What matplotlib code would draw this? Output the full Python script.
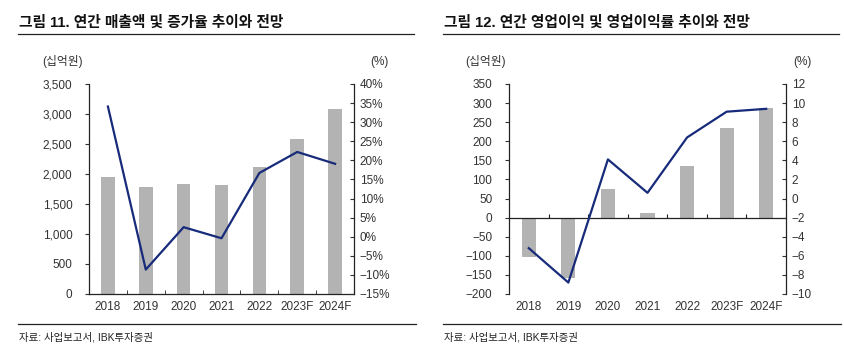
import numpy as np
import matplotlib
matplotlib.use("Agg")
import matplotlib.pyplot as plt
from matplotlib.lines import Line2D

plt.rcParams['font.family'] = ['Liberation Sans', 'Noto Sans CJK KR', 'DejaVu Sans']

# data
years = ['2018', '2019', '2020', '2021', '2022', '2023F', '2024F']
sales = [1950, 1783, 1828, 1817, 2122, 2583, 3078]            # 십억원
sales_growth = [34.1, -8.6, 2.5, -0.4, 16.7, 22.2, 19.1]      # %
op_income = [-103, -159, 75, 11, 135, 234, 288]               # 십억원
op_margin = [-5.2, -8.8, 4.1, 0.6, 6.4, 9.1, 9.4]             # %

left_ticks1 = [0, 500, 1000, 1500, 2000, 2500, 3000, 3500]
right_ticks1 = [-15, -10, -5, 0, 5, 10, 15, 20, 25, 30, 35, 40]
left_ticks2 = [-200, -150, -100, -50, 0, 50, 100, 150, 200, 250, 300, 350]
right_ticks2 = [-10, -8, -6, -4, -2, 0, 2, 4, 6, 8, 10, 12]

title1 = '그림 11. 연간 매출액 및 증가율 추이와 전망'
title2 = '그림 12. 연간 영업이익 및 영업이익률 추이와 전망'
source = '자료: 사업보고서, IBK투자증권'

BAR = '#B3B3B3'
LINE = '#172B7A'
TXT = '#333333'
FS = 8.5

W, H = 845, 352
fig = plt.figure(figsize=(W / 100, H / 100), dpi=100)


def px(x0, y0, x1, y1):
    return [x0 / W, 1 - y1 / H, (x1 - x0) / W, (y1 - y0) / H]


def fmt(v, pct=False):
    s = f'{abs(v):,}'
    if pct:
        s += '%'
    return ('−' + s) if v < 0 else s


def panel(rect, bars, line, lt, rt, pct, zero_axis):
    ax = fig.add_axes(rect)
    x = np.arange(len(years))
    ax.bar(x, bars, width=0.36, color=BAR, zorder=1)
    ax.set_xlim(-0.5, len(years) - 0.5)
    ax.set_ylim(lt[0], lt[-1])
    ax.set_yticks(lt)
    ax.set_yticklabels([fmt(v) for v in lt])
    ax.set_xticks(x)
    ax.set_xticklabels(years)
    ax.tick_params(axis='x', length=0, pad=5, labelsize=FS, colors=TXT)
    ax.tick_params(axis='y', direction='out', length=3, pad=9, labelsize=FS, colors=TXT)
    for s in ['top', 'right']:
        ax.spines[s].set_visible(False)
    ax.spines['left'].set_color('#222222')
    ax.spines['left'].set_linewidth(0.9)
    bnd = x[:-1] + 0.5
    if zero_axis:
        ax.spines['bottom'].set_visible(False)
        ax.axhline(0, color='#222222', lw=0.9, zorder=2)
        loc = (0 - lt[0]) / (lt[-1] - lt[0])
        sec = ax.secondary_xaxis(loc)
        sec.set_xticks(bnd)
        sec.set_xticklabels([])
        sec.tick_params(direction='in', length=3, color='#222222')
        sec.spines['bottom'].set_visible(False)
    else:
        ax.spines['bottom'].set_color('#222222')
        ax.spines['bottom'].set_linewidth(0.9)
        ax.set_xticks(bnd, minor=True)
        ax.tick_params(axis='x', which='minor', direction='in', length=3, color='#222222')

    ax2 = ax.twinx()
    ax2.plot(x, line, color=LINE, lw=1.6, zorder=3)
    ax2.set_ylim(rt[0], rt[-1])
    ax2.set_yticks(rt)
    ax2.set_yticklabels([fmt(v, pct) for v in rt])
    ax2.tick_params(axis='y', direction='in', length=3, pad=4, labelsize=FS, colors=TXT)
    for s in ['top', 'left', 'bottom']:
        ax2.spines[s].set_visible(False)
    ax2.spines['right'].set_color('#222222')
    ax2.spines['right'].set_linewidth(0.9)
    return ax, ax2


panel(px(89, 84, 354, 294), sales, sales_growth, left_ticks1, right_ticks1, True, False)
panel(px(509, 84, 786, 294), op_income, op_margin, left_ticks2, right_ticks2, False, True)

# titles, unit labels, rules, sources
for x0, x1, t, ux0, ux1 in [(18, 414, title1, 42, 370), (443, 839, title2, 465, 793)]:
    fig.text(x0 / W + 0.001, 1 - 23 / H, t, fontsize=10.6, fontweight='bold', color='#111111',
             va='center', ha='left')
    fig.add_artist(Line2D([x0 / W, x1 / W], [1 - 34 / H] * 2, color='#222222', lw=0.9))
    fig.text(ux0 / W, 1 - 62 / H, '(십억원)', fontsize=FS, color=TXT, va='center', ha='left')
    fig.text(ux1 / W, 1 - 62 / H, '(%)', fontsize=FS, color=TXT, va='center', ha='left')
    fig.add_artist(Line2D([x0 / W, (x1 + 2) / W], [1 - 324 / H] * 2, color='#222222', lw=0.9))
    fig.text(x0 / W + 0.001, 1 - 337 / H, source, fontsize=7.5, color='#222222',
             va='center', ha='left')

fig.savefig('out.png', dpi=100, facecolor='white')
